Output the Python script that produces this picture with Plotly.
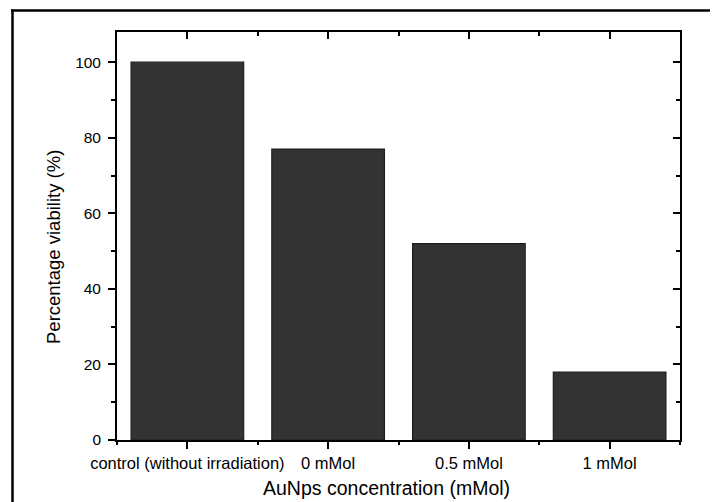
import plotly.graph_objects as go

categories = ["control (without irradiation)", "0 mMol", "0.5 mMol", "1 mMol"]
viability = [100, 77, 52, 18]
y_ticks = [0, 20, 40, 60, 80, 100]
x_title = "AuNps concentration (mMol)"
y_title = "Percentage viability (%)"

FONT = "Arial, Liberation Sans, sans-serif"

# page body has an 8px margin, so the figure is laid out in a 710x494 box
W, H = 710, 494
L, R, T, B = 109, 38, 24, 62
PW, PH = W - L - R, H - T - B
LW = 1.8

fig = go.Figure()
fig.add_trace(go.Bar(
    x=categories, y=viability,
    marker=dict(color="#333333", line=dict(color="#1e1e1e", width=1.2)),
    width=0.8, showlegend=False, hoverinfo="x+y",
))
# empty traces so the mirror axes are drawn
fig.add_trace(go.Scatter(x=[None], y=[None], xaxis="x2", yaxis="y2",
                         showlegend=False, hoverinfo="skip"))
fig.add_trace(go.Scatter(x=[None], y=[None], xaxis="x3", yaxis="y",
                         showlegend=False, hoverinfo="skip"))

n = len(categories)
centers = list(range(n))
bounds = [i - 0.5 for i in range(n + 1)]

fig.update_layout(
    width=W, height=H,
    margin=dict(l=L, r=R, t=T, b=B),
    paper_bgcolor="white", plot_bgcolor="white",
    font=dict(family=FONT, color="black", size=15),
    xaxis=dict(
        type="category", range=[-0.5, n - 0.5],
        showline=True, linecolor="black", linewidth=LW,
        ticks="outside", ticklen=7, tickwidth=LW, tickcolor="black",
        tickfont=dict(size=16.5, family=FONT),
        showgrid=False, zeroline=False, fixedrange=True,
    ),
    xaxis3=dict(
        overlaying="x", side="bottom", range=[-0.5, n - 0.5],
        showline=False, ticks="outside", ticklen=4, tickwidth=LW, tickcolor="black",
        tickmode="array", tickvals=bounds, showticklabels=False,
        showgrid=False, zeroline=False, fixedrange=True,
    ),
    xaxis2=dict(
        overlaying="x", side="top", range=[-0.5, n - 0.5],
        showline=True, linecolor="black", linewidth=LW,
        ticks="inside", ticklen=7, tickwidth=LW, tickcolor="black",
        tickmode="array", tickvals=centers, showticklabels=False,
        minor=dict(tickmode="array", tickvals=bounds, ticks="inside", ticklen=4, tickwidth=LW, tickcolor="black"),
        showgrid=False, zeroline=False, fixedrange=True,
    ),
    yaxis=dict(
        range=[0, 108],
        showline=True, linecolor="black", linewidth=LW,
        ticks="outside", ticklen=7, tickwidth=LW, tickcolor="black",
        tickmode="array", tickvals=y_ticks,
        minor=dict(dtick=10, ticks="outside", ticklen=4, tickwidth=LW, tickcolor="black"),
        tickfont=dict(size=15.5, family=FONT), ticklabelstandoff=4,
        showgrid=False, zeroline=False, fixedrange=True,
    ),
    yaxis2=dict(
        overlaying="y", side="right", range=[0, 108],
        showline=True, linecolor="black", linewidth=LW,
        ticks="inside", ticklen=7, tickwidth=LW, tickcolor="black",
        tickmode="array", tickvals=y_ticks, showticklabels=False,
        minor=dict(dtick=10, ticks="inside", ticklen=4, tickwidth=LW, tickcolor="black"),
        showgrid=False, zeroline=False, fixedrange=True,
    ),
    bargap=0.2,
)


def px_x(x):
    return (x - L) / PW


def px_y(y):
    return 1 - (y - T) / PH


# axis titles
fig.add_annotation(text=x_title, xref="paper", yref="paper",
                   x=px_x(378), y=px_y(480), xanchor="center", yanchor="middle",
                   showarrow=False, font=dict(size=19.5, family=FONT, color="black"))
fig.add_annotation(text=y_title, xref="paper", yref="paper", textangle=-90,
                   x=px_x(45), y=px_y(239), xanchor="center", yanchor="middle",
                   showarrow=False, font=dict(size=18.5, family=FONT, color="black"))

# outer frame (top and left edges of the cropped figure border)
fig.add_shape(type="line", xref="paper", yref="paper",
              x0=px_x(3), x1=px_x(W + 20), y0=px_y(2.5), y1=px_y(2.5),
              line=dict(color="black", width=2.5))
fig.add_shape(type="line", xref="paper", yref="paper",
              x0=px_x(4.5), x1=px_x(4.5), y0=px_y(1.5), y1=px_y(H + 20),
              line=dict(color="black", width=2.5))

fig.write_html("out.html")
